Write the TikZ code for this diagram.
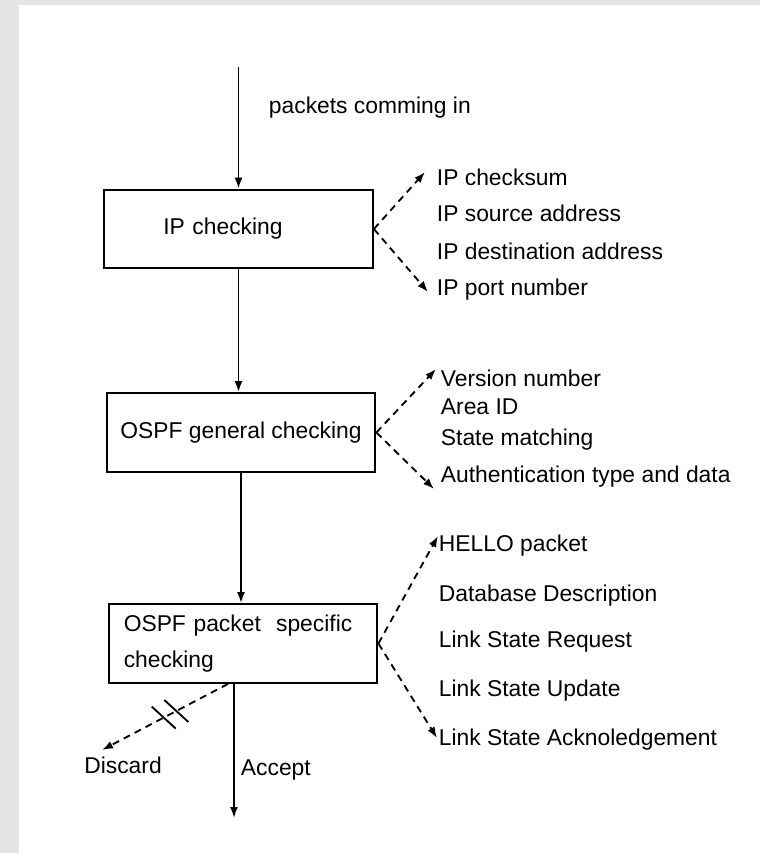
\documentclass[tikz,border=0pt]{standalone}
\usepackage{fontspec}
\setmainfont{Liberation Sans}
\usetikzlibrary{arrows.meta}
\begin{document}
\begin{tikzpicture}[>={Latex[length=2.2mm,width=1.6mm]},line width=1.05pt,
 font=\fontsize{13}{17}\selectfont,
 b/.style={draw,line width=1.3pt,minimum width=5.37cm,minimum height=1.57cm,inner sep=0pt},
 t/.style={anchor=west,inner sep=0pt},
 d/.style={->,dash pattern=on 4pt off 3pt}]
\useasboundingbox (0,0) rectangle (15.2,-17.06);
\fill[gray!20] (0,0) rectangle (.38,-17.06);
\fill[gray!20] (0,0) rectangle (15.2,-.1);
% The three checking stages.
\node[b,align=left,text width=3.01cm,inner xsep=1.18cm] (ip) at (4.77,-4.58) {IP checking};
\node[b] (gen) at (4.82,-8.65) {OSPF general checking};
\node[b,align=left,text width=4.77cm,inner xsep=.3cm,font=\fontsize{13}{20.5}\selectfont] (spec) at (4.86,-12.87) {OSPF packet~~specific\\checking};
\coordinate (in) at (4.77,-1.34);
\node[t] (inl) at (5.36,-2.16) {packets comming in};
\draw[->] (in) -- (ip.north);
\draw[->] (ip.south) -- (ip.south |- gen.north);
\draw[->] (gen.south) -- (gen.south |- spec.north);
% IP fields
\node[t] (ip1) at (8.72,-3.54) {IP checksum};
\node[t] (ip2) at (8.72,-4.26) {IP source address};
\node[t] (ip3) at (8.72,-5.02) {IP destination address};
\node[t] (ip4) at (8.72,-5.80) {IP port number};
\draw[d] (ip.east) -- (8.5,-3.44);
\draw[d] (ip.east) -- (8.56,-5.84);
% OSPF header fields
\node[t] (g1) at (8.8,-7.56) {Version number};
\node[t] (g2) at (8.8,-8.14) {Area ID};
\node[t] (g3) at (8.8,-8.80) {State matching};
\node[t] (g4) at (8.8,-9.54) {Authentication type and data};
\draw[d] (gen.east) -- (8.72,-7.38);
\draw[d] (gen.east) -- (8.68,-9.78);
% packet types
\node[t] (s1) at (8.76,-10.92) {HELLO packet};
\node[t] (s2) at (8.76,-11.92) {Database Description};
\node[t] (s3) at (8.76,-12.84) {Link State Request};
\node[t] (s4) at (8.76,-13.82) {Link State Update};
\node[t] (s5) at (8.76,-14.80) {Link State Acknoledgement};
\draw[d] (spec.east) -- (8.76,-10.72);
\draw[d] (spec.east) -- (8.74,-14.76);
% Accept / Discard
\coordinate (acc) at (4.68,-16.36);
\coordinate (dis) at (2.04,-15.0);
\node[t] (accl) at (4.8,-15.4) {Accept};
\node (disl) at (2.46,-15.3) {Discard};
\draw[->] (acc |- spec.south) -- (acc);
\draw[d] ([xshift=-.3cm]spec.south) -- coordinate[pos=.41] (brkA) coordinate[pos=.51] (brkB) (dis);
\draw ([shift={(-.24,.22)}]brkA) -- ([shift={(.24,-.22)}]brkA);
\draw ([shift={(-.24,.22)}]brkB) -- ([shift={(.24,-.22)}]brkB);
\end{tikzpicture}
\end{document}
